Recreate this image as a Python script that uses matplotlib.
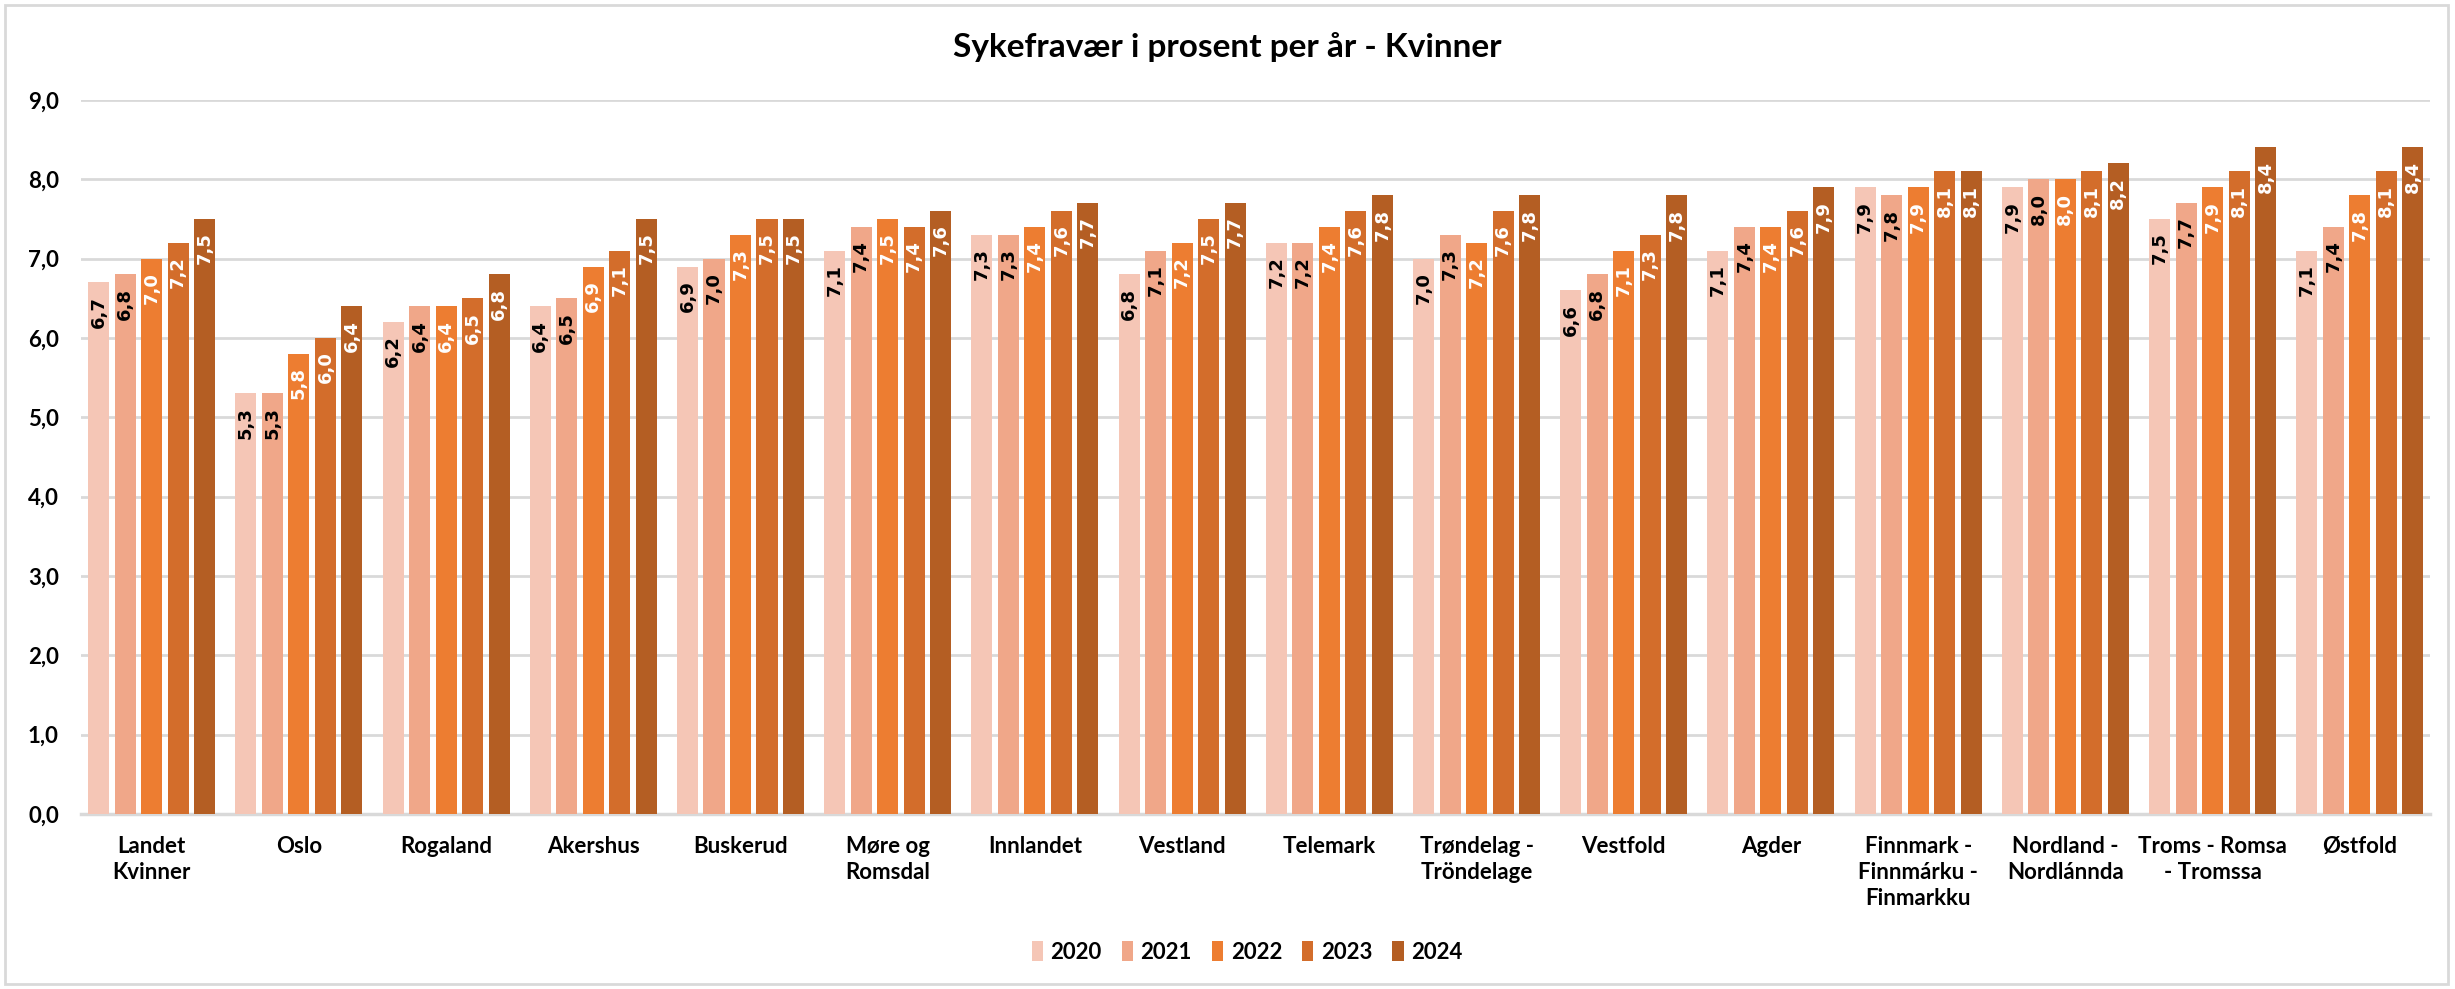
import matplotlib
matplotlib.use("Agg")
import matplotlib.pyplot as plt
from matplotlib.patches import Patch, Rectangle
import numpy as np

plt.rcParams['font.family'] = ['Lato', 'DejaVu Sans']

categories = ["Landet\nKvinner", "Oslo", "Rogaland", "Akershus", "Buskerud",
              "Møre og\nRomsdal", "Innlandet", "Vestland", "Telemark",
              "Trøndelag -\nTröndelage", "Vestfold", "Agder",
              "Finnmark -\nFinnmárku -\nFinmarkku", "Nordland -\nNordlánnda",
              "Troms - Romsa\n- Tromssa", "Østfold"]
years = ["2020", "2021", "2022", "2023", "2024"]
v2020 = [6.7, 5.3, 6.2, 6.4, 6.9, 7.1, 7.3, 6.8, 7.2, 7.0, 6.6, 7.1, 7.9, 7.9, 7.5, 7.1]
v2021 = [6.8, 5.3, 6.4, 6.5, 7.0, 7.4, 7.3, 7.1, 7.2, 7.3, 6.8, 7.4, 7.8, 8.0, 7.7, 7.4]
v2022 = [7.0, 5.8, 6.4, 6.9, 7.3, 7.5, 7.4, 7.2, 7.4, 7.2, 7.1, 7.4, 7.9, 8.0, 7.9, 7.8]
v2023 = [7.2, 6.0, 6.5, 7.1, 7.5, 7.4, 7.6, 7.5, 7.6, 7.6, 7.3, 7.6, 8.1, 8.1, 8.1, 8.1]
v2024 = [7.5, 6.4, 6.8, 7.5, 7.5, 7.6, 7.7, 7.7, 7.8, 7.8, 7.8, 7.9, 8.1, 8.2, 8.4, 8.4]
series = [v2020, v2021, v2022, v2023, v2024]

colors = ["#F5C6B6", "#F0A789", "#ED7D31", "#D36D2B", "#B45E23"]
label_colors = ["black", "black", "white", "white", "white"]

fig = plt.figure(figsize=(24.55, 9.89), dpi=100)
ax = fig.add_axes([0.033, 0.177, 0.957, 0.722])

x = np.arange(len(categories))
slot = 0.18
bw = 0.143
for i, vals in enumerate(series):
    pos = x + (i - 2) * slot
    ax.bar(pos, vals, width=bw, color=colors[i], zorder=3, label=years[i])
    for px, v in zip(pos, vals):
        ax.text(px, v - 0.17, f"{v:.1f}".replace('.', ','), rotation=90,
                ha='center', va='top', fontsize=13, fontweight='bold',
                color=label_colors[i], family=['DejaVu Sans'], zorder=4)

ax.set_xlim(-0.48, len(categories) - 0.52)
ax.set_ylim(0, 9)
ax.set_yticks(np.arange(0, 10, 1))
ax.set_yticklabels([f"{t:.1f}".replace('.', ',') for t in np.arange(0, 10, 1)],
                   fontsize=16, fontweight='bold')
ax.set_xticks(x)
ax.set_xticklabels(categories, fontsize=16, fontweight='bold', linespacing=1.3)
ax.tick_params(axis='both', length=0)
ax.tick_params(axis='x', pad=16)
ax.tick_params(axis='y', pad=16)
ax.grid(axis='y', color='#D9D9D9', linewidth=2, zorder=0)
for s in ['top', 'right', 'left']:
    ax.spines[s].set_visible(False)
ax.spines['bottom'].set_color('#D9D9D9')
ax.spines['bottom'].set_linewidth(2.5)

fig.text(0.5, 1 - 47 / 989, "Sykefravær i prosent per år - Kvinner",
         ha='center', va='center', fontsize=24, fontweight='bold')

handles = [Patch(facecolor=c, edgecolor='none') for c in colors]
fig.legend(handles, years, loc='center', bbox_to_anchor=(0.508, 1 - 952 / 989),
           ncol=5, frameon=False, handlelength=0.5, handleheight=1.0,
           handletextpad=0.35, columnspacing=0.9,
           prop={'size': 16, 'weight': 'bold'})

fig.patches.append(Rectangle((0.002, 0.005), 0.995, 0.99, transform=fig.transFigure,
                             fill=False, edgecolor='#D9D9D9', linewidth=2))

fig.savefig("out.png", dpi=100)
